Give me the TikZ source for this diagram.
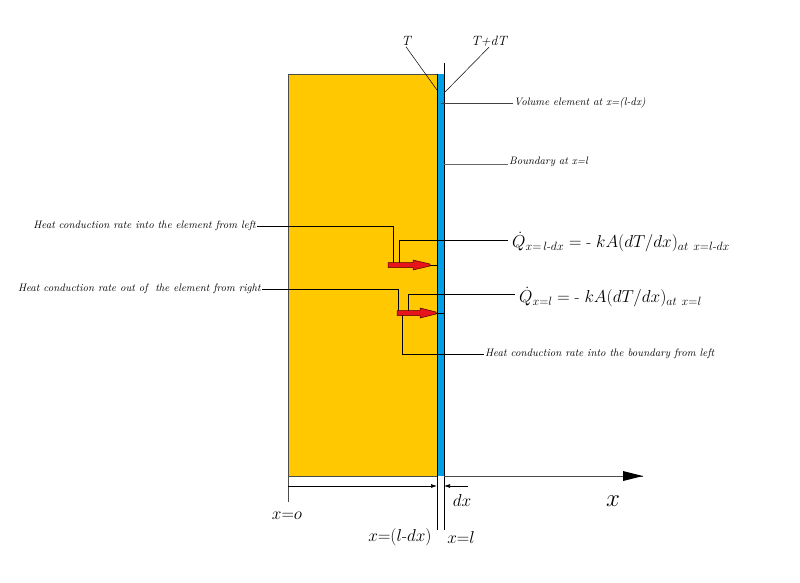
\documentclass[tikz,border=0pt]{standalone}
\usepackage{amsmath}
\usetikzlibrary{arrows.meta}
\definecolor{slab}{HTML}{FFC800}
\definecolor{elem}{HTML}{00A0E8}
\definecolor{heat}{HTML}{E8141C}
\tikzset{
  lbl/.style={font=\fontsize{10.8}{12}\selectfont\itshape, inner sep=1pt},
  tlbl/.style={font=\fontsize{13.5}{15}\selectfont\itshape, inner sep=1pt},
  eq/.style={font=\fontsize{16.4}{18}\selectfont, inner sep=1pt},
  axlbl/.style={font=\fontsize{16.5}{18}\selectfont, inner sep=1pt},
  conn/.style={draw=black, line width=0.7pt},
  heatarrow/.style={fill=heat, draw=black!70!red, line width=0.5pt},
  dimarrow/.style={draw=black, line width=0.7pt, -{Latex[length=6pt,width=4pt]}}
}
\newcommand\heatarr[4]{% x0, y, head base, tip
  \path[heatarrow] (#1,#2-2.5) -- (#3,#2-2.5) -- (#3,#2-5) -- (#4,#2-1) -- (#4,#2+1) -- (#3,#2+5) -- (#3,#2+2.5) -- (#1,#2+2.5) -- cycle;}
\begin{document}
\begin{tikzpicture}[x=1pt,y=-1pt]
\useasboundingbox (0,0) rectangle (800,583);
% slab and element
\fill[slab] (288,74) rectangle (437,476);
\draw[black!70, line width=0.7pt] (437,74) -- (288,74) -- (288,476) -- (437,476);
\fill[elem] (437,74) rectangle (444,476);
\draw[line width=0.8pt] (437,74) -- (437,476);
\coordinate (btop) at (444,63);
\coordinate (bbot) at (444,530);
\draw[line width=0.8pt] (btop) -- (bbot);
\coordinate (etop) at (437,476);
\coordinate (ebot) at (437,530);
\draw[line width=0.7pt] (etop) -- (ebot);
% T labels
\node[tlbl] (T) at (406,41) {T};
\node[tlbl] (TdT) at (489,41) {T+dT};
\coordinate (tp) at (437,90);
\coordinate (tdp) at (445,92);
\draw[line width=0.5pt] (T.south) -- (tp);
\draw[line width=0.5pt] (TdT.south) -- (tdp);
% volume element and boundary labels
\node[lbl, anchor=west] (vol) at (513,103) {Volume element at x=(l-dx)};
\coordinate (volp) at (441,103);
\draw[conn, black!75] (volp) -- (vol.west);
\node[lbl, anchor=west] (bnd) at (508,162) {Boundary at x=l};
\coordinate (bndp) at (444,164);
\draw[conn, black!60] (bndp) -- (bnd.west |- bndp);
% left labels
\node[lbl, anchor=east] (inl) at (257,226) {Heat conduction rate into the element from left};
\node[lbl, anchor=east] (outr) at (262,289) {Heat conduction rate out of~ the element from right};
\node[lbl, anchor=west] (inb) at (484,354) {Heat conduction rate into the boundary from left};
% equations
\node[eq, anchor=west] (q1) at (511,242) {$\dot{Q}_{x=\,l\text{-}dx} = \text{-}\ kA(dT/dx)_{at\ x=l\text{-}dx}$};
\node[eq, anchor=west] (q2) at (518,297) {$\dot{Q}_{x=l} = \text{-}\ kA(dT/dx)_{at\ x=l}$};
% connectors to arrows
\coordinate (a1) at (393,263);
\coordinate (a1b) at (399,263);
\coordinate (a2) at (398,311);
\coordinate (a2b) at (408,311);
\coordinate (a2c) at (402,315);
\coordinate (q1p) at (508,240);
\coordinate (q2p) at (515,294);
\draw[conn] (inl.east) -- (a1 |- inl.east) -- (a1);
\draw[conn] (a1b) -- (a1b |- q1p) -- (q1p);
\draw[conn] (outr.east) -- (a2 |- outr.east) -- (a2);
\draw[conn] (a2b) -- (a2b |- q2p) -- (q2p);
\draw[conn] (a2c) -- (a2c |- inb.west) -- (inb.west);
% heat arrows
\heatarr{388}{265}{413}{430}
\draw[line width=0.6pt] (430,265) -- (437,265);
\heatarr{397}{313}{420}{436}
\draw[line width=0.8pt] (436,313) -- (444,313);
% axis
\coordinate (ax0) at (444,476);
\coordinate (ax1) at (643,476);
\draw[black!70, line width=0.8pt] (ax0) -- (ax1);
\fill[black] (643,476) -- (623,471) -- (623,481) -- cycle;
\node[axlbl, font=\fontsize{24}{26}\selectfont] (xl) at (613,501) {$x$};
% dimension lines
\coordinate (o0) at (288,476);
\coordinate (o1) at (288,502);
\draw[black!70, line width=0.8pt] (o0) -- (o1);
\coordinate (d0) at (288,486);
\coordinate (d1) at (437,486);
\draw[dimarrow] (d0) -- (d1);
\coordinate (e0) at (468,486);
\coordinate (e1) at (444,486);
\draw[dimarrow] (e0) -- (e1);
\node[axlbl] (dx) at (462,500) {$dx$};
\node[axlbl] (x0) at (287,516) {$x{=}o$};
\node[axlbl] (xld) at (400,537) {$x{=}(l\text{-}dx)$};
\node[axlbl] (xl2) at (461,537) {$x{=}l$};
\end{tikzpicture}
\end{document}
